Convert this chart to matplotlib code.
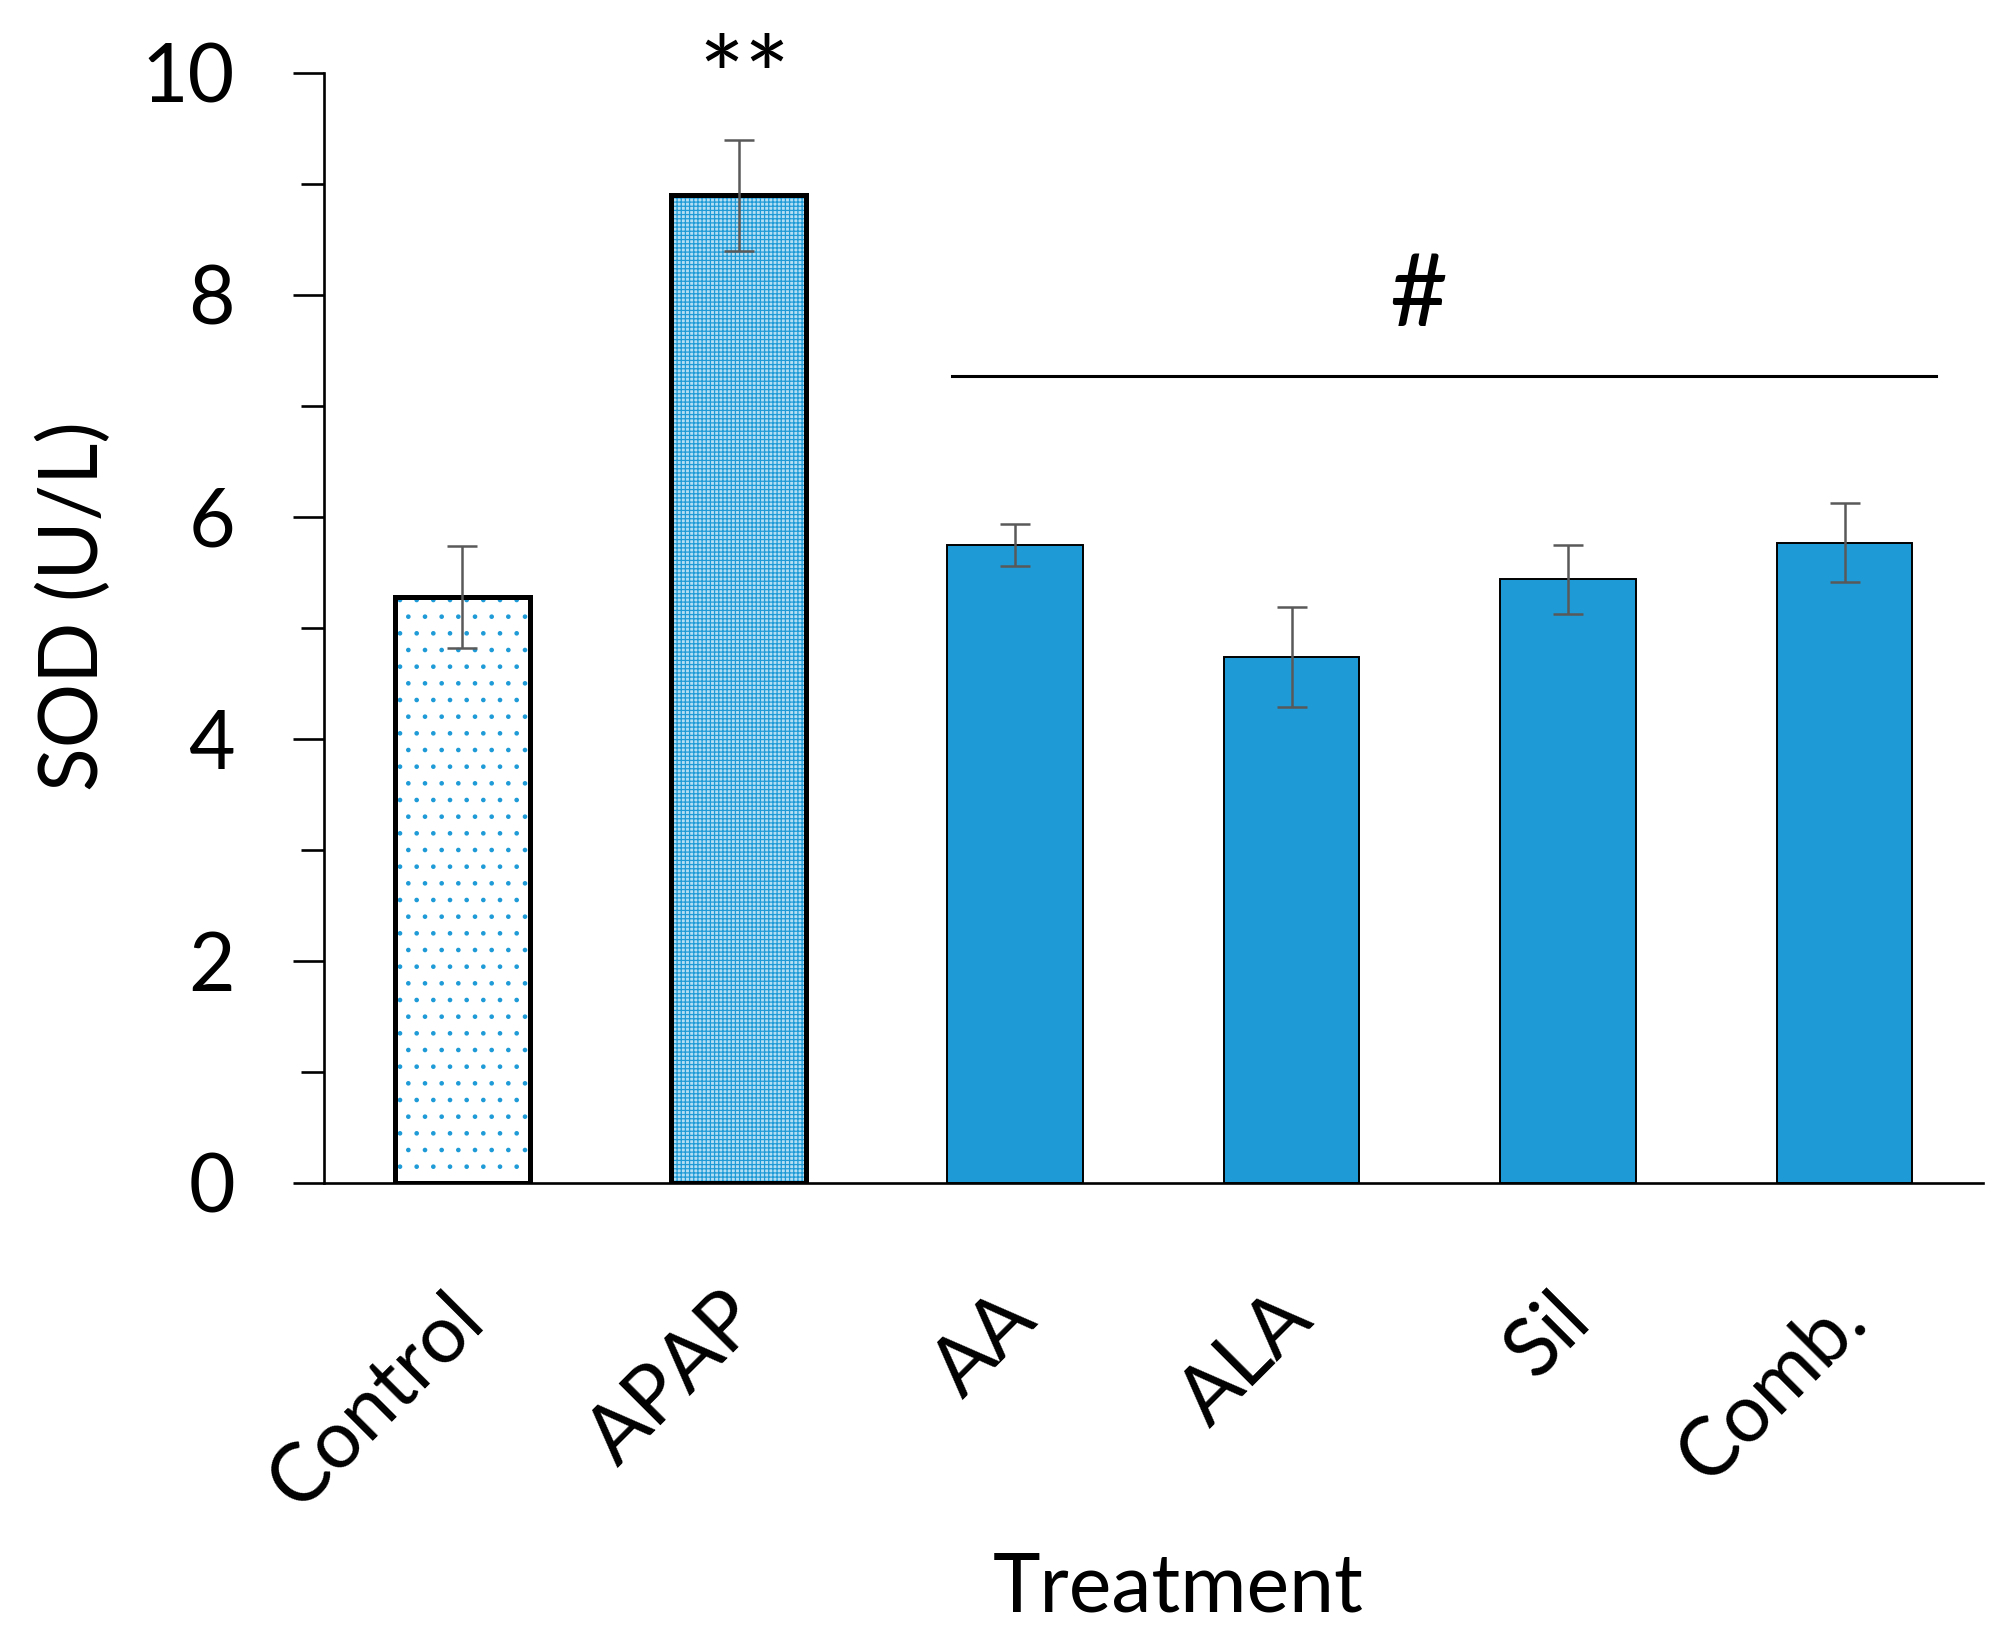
import matplotlib
matplotlib.use("Agg")
import matplotlib.pyplot as plt
import matplotlib.transforms as mtransforms
import numpy as np

categories = ["Control", "APAP", "AA", "ALA", "Sil", "Comb."]
sod_means = [5.28, 8.90, 5.75, 4.74, 5.44, 5.77]
sod_errors = [0.46, 0.50, 0.19, 0.45, 0.31, 0.36]
y_ticks = [0, 2, 4, 6, 8, 10]

BLUE = "#1E9BD7"
plt.rcParams['font.family'] = ['Lato', 'DejaVu Sans']
plt.rcParams['hatch.linewidth'] = 0.9

fig = plt.figure(figsize=(20.04, 16.43), dpi=100)
ax = fig.add_axes([0.16168, 0.27998, 0.8278, 0.6756])

x = np.arange(len(categories))
width = 0.49

hatches = ['.', '++++', None, None, None, None]
faces = ['white', '#B5DEF3', BLUE, BLUE, BLUE, BLUE]
for i in range(len(categories)):
    if hatches[i] is not None:
        ax.bar(x[i], sod_means[i], width, color=faces[i], edgecolor=BLUE,
               linewidth=0, hatch=hatches[i], zorder=2)
        ax.bar(x[i], sod_means[i], width, fill=False, edgecolor='black',
               linewidth=3.6, zorder=3)
    else:
        ax.bar(x[i], sod_means[i], width, color=faces[i], edgecolor='black',
               linewidth=1.4, zorder=3)

ax.errorbar(x, sod_means, yerr=sod_errors, fmt='none', ecolor='#595959',
            elinewidth=1.8, capsize=10.8, capthick=1.8, zorder=4)

ax.set_xlim(-0.5, 5.5)
ax.set_ylim(0, 10)
for s in ['top', 'right']:
    ax.spines[s].set_visible(False)
for s in ['left', 'bottom']:
    ax.spines[s].set_linewidth(1.9)

ax.set_yticks(y_ticks)
ax.set_yticks(np.arange(1, 10, 2), minor=True)
ax.tick_params(axis='y', which='major', length=22, width=1.9, labelsize=58, pad=42)
ax.tick_params(axis='y', which='minor', length=16.5, width=1.9)
ax.set_xticks(x)
ax.set_xticklabels(categories, rotation=45, ha='right', rotation_mode='anchor')
ax.tick_params(axis='x', length=0, labelsize=58, pad=70)
shift = mtransforms.ScaledTranslation(-18 / 100, 0, fig.dpi_scale_trans)
for lbl in ax.get_xticklabels():
    lbl.set_transform(lbl.get_transform() + shift)

ax.set_ylabel("SOD (U/L)", fontsize=58)
ax.yaxis.set_label_coords(-0.128, 0.52)
ax.set_xlabel("Treatment", fontsize=58, va='center')
ax.xaxis.set_label_coords(0.515, -0.365)

# significance annotations
ax.text(1.02, 9.62, "**", fontsize=78, ha='center', va='baseline', clip_on=False)
ax.plot([1.77, 5.33], [7.27, 7.27], color='black', linewidth=2.2, clip_on=False)
ax.text(3.457, 7.98, "#", fontsize=72, ha='center', va='center')

fig.savefig("out.png", dpi=100, facecolor='white')
